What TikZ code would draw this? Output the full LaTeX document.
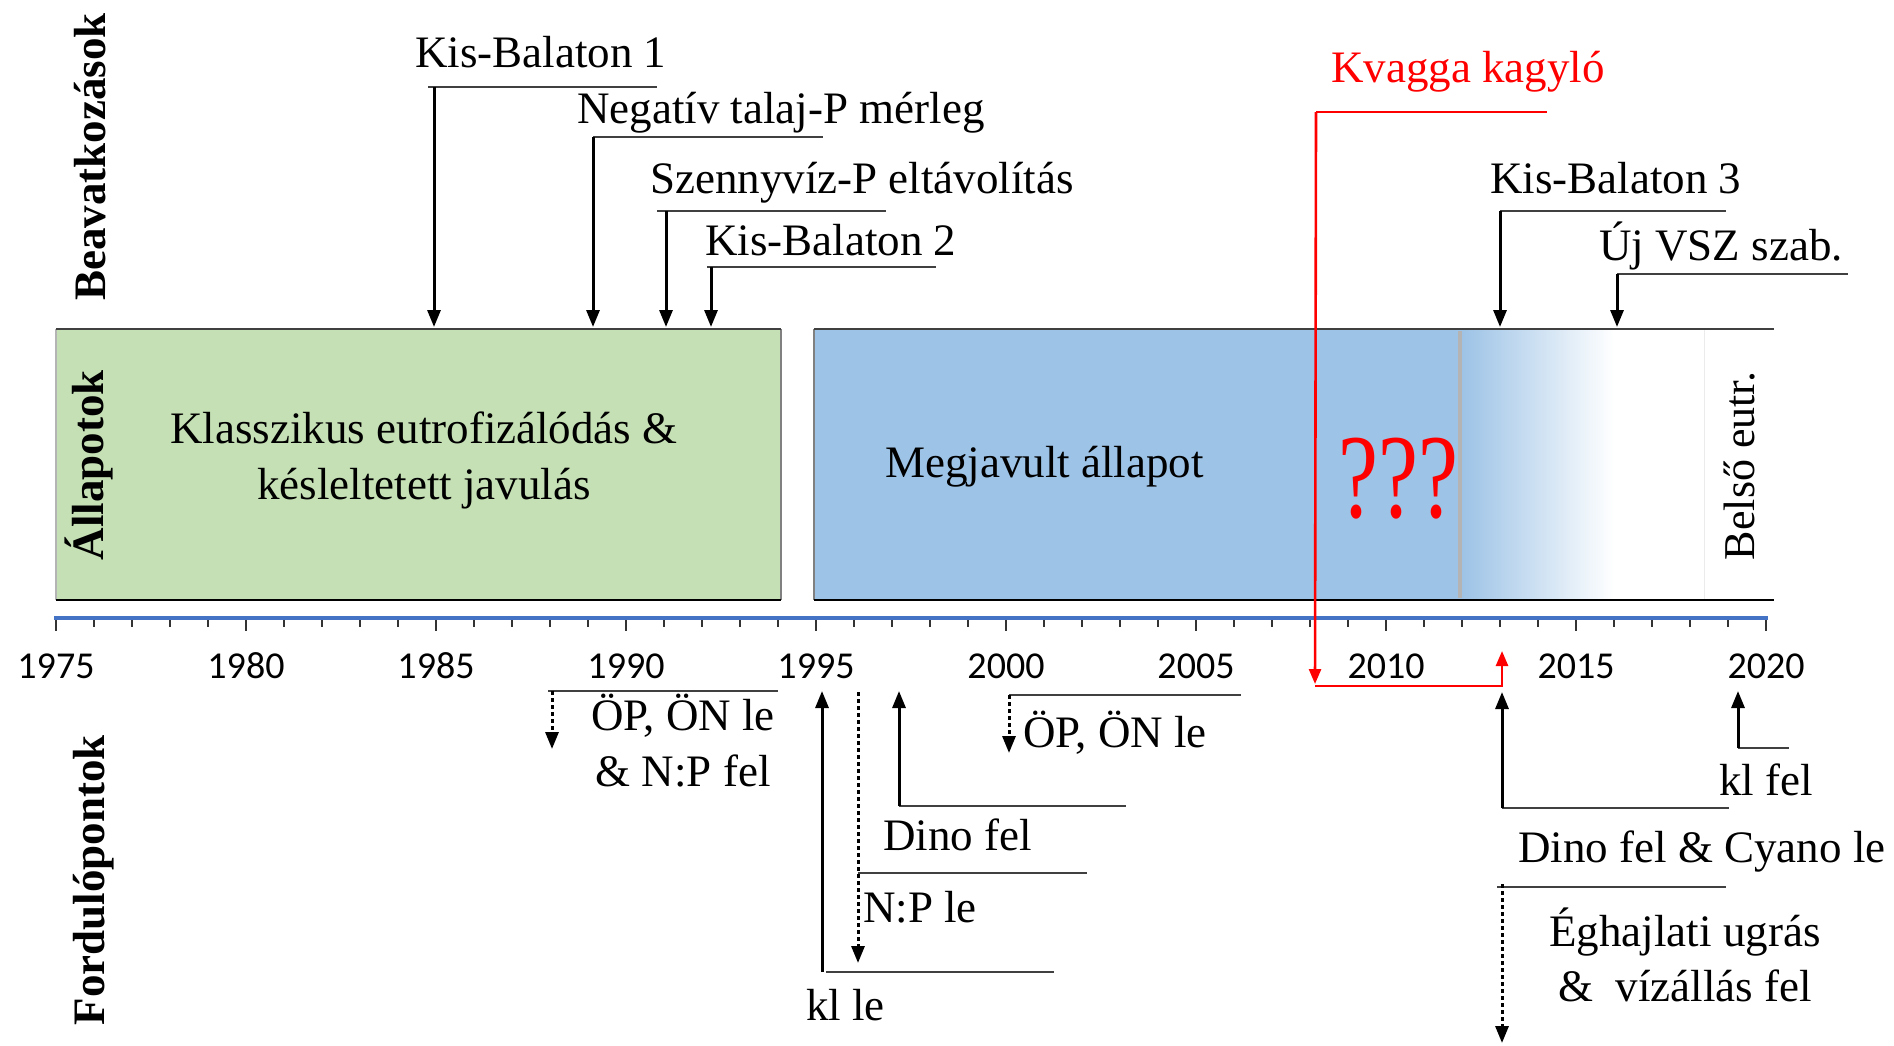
\documentclass[tikz,border=0pt]{standalone}
\usepackage{fontspec}
\setmainfont{Liberation Serif}
\newfontfamily\yearfont{Carlito}
\usetikzlibrary{arrows.meta}
\definecolor{greenF}{HTML}{C5E0B4}
\definecolor{blueF}{HTML}{9DC3E6}
\definecolor{axisB}{HTML}{4472C4}
\definecolor{lineG}{HTML}{404040}
\definecolor{sepG}{HTML}{B4B4B4}
\definecolor{redC}{HTML}{FF0000}
\tikzset{
  lbl/.style={inner sep=0pt, font=\fontsize{45}{54}\selectfont},
  side/.style={inner sep=0pt, rotate=90, anchor=base, font=\fontsize{45}{54}\selectfont\bfseries},
  yr/.style={inner sep=0pt, anchor=base, font=\fontsize{38}{44}\yearfont},
  lline/.style={draw=lineG, line width=1.8pt},
  arr/.style={draw=black, line width=3pt, -{Triangle[length=17pt,width=13pt]}},
  darr/.style={draw=black, line width=3pt, dash pattern=on 4pt off 3pt, -{Triangle[length=17pt,width=13pt]}},
  rarr/.style={draw=redC, line width=2.6pt, -{Triangle[length=15pt,width=12pt]}},
  tickl/.style={draw=black!80, line width=2pt}
}
\begin{document}
\begin{tikzpicture}[x=1pt,y=-1pt]
\useasboundingbox[fill=white] (0,0) rectangle (1894,1045);

% ---- state boxes ----
\fill[greenF] (56,329) rectangle (781,600);
\draw[draw=sepG, line width=1.5pt] (56,329) -- (56,600);
\draw[draw=gray, line width=1.5pt] (781,329) -- (781,600);
\draw[draw=lineG, line width=2pt] (56,329) -- (781,329);
\draw[draw=black, line width=2pt] (56,600) -- (781,600);

\fill[blueF] (814,329) rectangle (1462,600);
\shade[left color=blueF, right color=white] (1462,329) rectangle (1614,600);
\draw[draw=gray, line width=1.5pt] (814,329) -- (814,600);
\draw[draw=sepG, line width=4pt] (1460,331) -- (1460,598);
\draw[draw=black!8, line width=1pt] (1704,329) -- (1704,600);
\draw[draw=lineG, line width=2pt] (814,329) -- (1774,329);
\draw[draw=black, line width=2pt] (814,600) -- (1774,600);

\node[lbl, anchor=base] (st1a) at (424,443) {Klasszikus eutrofizálódás \&};
\node[lbl, anchor=base] (st1b) at (424,499) {késleltetett javulás};
\node[lbl, anchor=base west] (st2) at (885,477) {Megjavult állapot};
\node[inner sep=0pt, anchor=base, text=redC, font=\fontsize{120}{130}\selectfont] (qq) at (1398,517) {\scalebox{0.75}[1]{???}};
\node[inner sep=0pt, rotate=90, anchor=base, font=\fontsize{44}{52}\selectfont] (st3) at (1754,466) {Belső eutr.};

% ---- side labels ----
\node[side] (sBeav) at (105,157) {Beavatkozások};
\node[side] (sAll) at (103,465) {Állapotok};
\node[side] (sFord) at (104,880) {Fordulópontok};

% ---- time axis ----
\foreach \i in {0,...,45}{
  \pgfmathsetmacro\xx{56+38*\i}
  \pgfmathsetmacro\len{ifthenelse(mod(\i,5)==0,12,8)}
  \draw[tickl] (\xx,619) -- (\xx,619+\len);
}
\coordinate (ax0) at (54,618);
\coordinate (ax1) at (1768,618);
\draw[draw=axisB, line width=4.5pt] (ax0) -- (ax1);
\foreach \y in {0,...,9}{
  \pgfmathsetmacro\xx{56+190*\y}
  \pgfmathtruncatemacro\yy{1975+5*\y}
  \node[yr] (y\yy) at (\xx,678) {\yy};
}

% ---- interventions (top) ----
\node[lbl, anchor=base west] (kb1) at (415,67) {Kis-Balaton 1};
\coordinate (kb1s) at (434,87); \coordinate (kb1e) at (657,87); \coordinate (kb1t) at (434,327);
\draw[lline] (428,87) -- (kb1e);
\draw[arr] (kb1s) -- (kb1t);

\node[lbl, anchor=base west] (ntp) at (577,123) {Negatív talaj-P mérleg};
\coordinate (ntps) at (593,137); \coordinate (ntpe) at (823,137); \coordinate (ntpt) at (593,327);
\draw[lline] (ntps) -- (ntpe);
\draw[arr] (ntps) -- (ntpt);

\node[lbl, anchor=base west] (szp) at (650,193) {Szennyvíz-P eltávolítás};
\coordinate (szps) at (666,211); \coordinate (szpe) at (886,211); \coordinate (szpt) at (666,327);
\draw[lline] (657,211) -- (szpe);
\draw[arr] (szps) -- (szpt);

\node[lbl, anchor=base west] (kb2) at (705,255) {Kis-Balaton 2};
\coordinate (kb2s) at (711,267); \coordinate (kb2e) at (936,267); \coordinate (kb2t) at (711,327);
\draw[lline] (707,267) -- (kb2e);
\draw[arr] (kb2s) -- (kb2t);

\node[lbl, anchor=base west] (kb3) at (1490,193) {Kis-Balaton 3};
\coordinate (kb3s) at (1500,211); \coordinate (kb3e) at (1726,211); \coordinate (kb3t) at (1500,327);
\draw[lline] (kb3s) -- (kb3e);
\draw[arr] (kb3s) -- (kb3t);

\node[lbl, anchor=base west] (ujv) at (1599,260) {Új VSZ szab.};
\coordinate (ujvs) at (1617,274); \coordinate (ujve) at (1848,274); \coordinate (ujvt) at (1617,327);
\draw[lline] (ujvs) -- (ujve);
\draw[arr] (ujvs) -- (ujvt);

% ---- Kvagga (red) ----
\node[lbl, anchor=base west, text=redC] (kvg) at (1331,82) {Kvagga kagyló};
\coordinate (kvs) at (1316,112); \coordinate (kve) at (1547,112); \coordinate (kvt) at (1315,684);
\coordinate (kvb) at (1315,686); \coordinate (kvc) at (1502,686); \coordinate (kvu) at (1502,651);
\draw[draw=redC, line width=2pt] (kvs) -- (kve);
\draw[rarr] (kvs) -- (kvt);
\draw[rarr] (kvb) -- (kvc) -- (kvu);

% ---- turning points (bottom) ----
\coordinate (op1s) at (552,691); \coordinate (op1e) at (778,691); \coordinate (op1t) at (552,749);
\draw[lline] (548,691) -- (op1e);
\draw[darr] (op1s) -- (op1t);
\node[lbl, anchor=base] (op1a) at (683,730) {ÖP, ÖN le};
\node[lbl, anchor=base] (op1b) at (683,786) {\& N:P fel};

\coordinate (klls) at (822,972); \coordinate (klle) at (1054,972); \coordinate (kllt) at (822,691);
\draw[lline] (826,972) -- (klle);
\draw[arr] (klls) -- (kllt);
\node[lbl, anchor=base west] (kll) at (806,1020) {kl le};

\coordinate (npls) at (858,692); \coordinate (nplt) at (858,963);
\coordinate (npla) at (858,873); \coordinate (nple) at (1087,873);
\draw[lline] (npla) -- (nple);
\draw[darr] (npls) -- (nplt);
\node[lbl, anchor=base west] (npl) at (863,922) {N:P le};

\coordinate (dfs) at (899,806); \coordinate (dfe) at (1126,806); \coordinate (dft) at (899,691);
\draw[lline] (dfs) -- (dfe);
\draw[arr] (dfs) -- (dft);
\node[lbl, anchor=base west] (df) at (883,850) {Dino fel};

\coordinate (op2s) at (1009,695); \coordinate (op2e) at (1241,695); \coordinate (op2t) at (1009,753);
\draw[lline] (op2s) -- (op2e);
\draw[darr] (op2s) -- (op2t);
\node[lbl, anchor=base west] (op2) at (1023,747) {ÖP, ÖN le};

\coordinate (dcs) at (1502,808); \coordinate (dce) at (1729,808); \coordinate (dct) at (1502,692);
\draw[lline] (dcs) -- (dce);
\draw[arr] (dcs) -- (dct);
\node[lbl, anchor=base west] (dc) at (1518,862) {Dino fel \& Cyano le};

\coordinate (kfs) at (1738,748); \coordinate (kfe) at (1789,748); \coordinate (kft) at (1738,691);
\draw[lline] (kfs) -- (kfe);
\draw[arr] (kfs) -- (kft);
\node[lbl, anchor=base west] (kf) at (1719,795) {kl fel};

\coordinate (egs) at (1502,884); \coordinate (ege) at (1726,887); \coordinate (egt) at (1502,1043);
\draw[lline] (1497,887) -- (ege);
\draw[darr] (egs) -- (egt);
\node[lbl, anchor=base] (ega) at (1685,946) {Éghajlati ugrás};
\node[lbl, anchor=base] (egb) at (1685,1001) {\&\ \ vízállás fel};
\end{tikzpicture}
\end{document}
